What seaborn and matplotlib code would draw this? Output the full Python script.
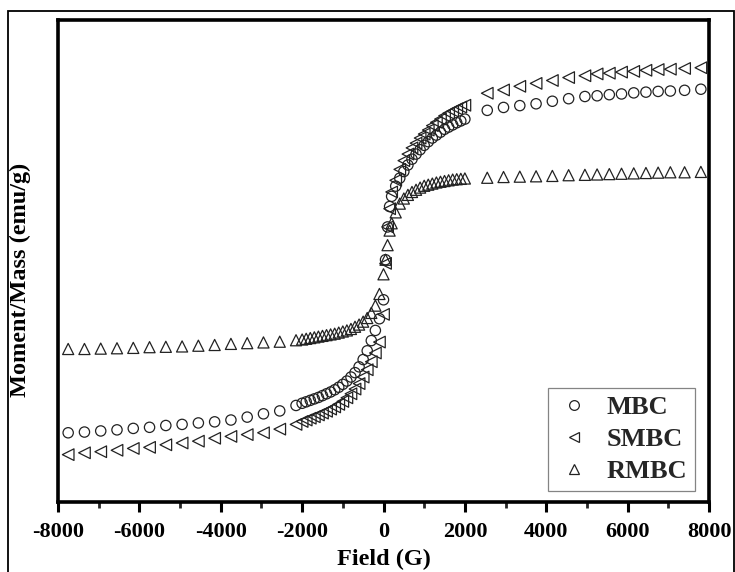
import numpy as np
import pandas as pd
import seaborn as sns
import matplotlib
matplotlib.use("Agg")
import matplotlib.pyplot as plt
from matplotlib.lines import Line2D
from matplotlib.patches import Rectangle

# ---- data ----
field_g = [-7750, -7350, -6950, -6550, -6150, -5750, -5350, -4950, -4550, -4150,
           -3750, -3350, -2950, -2550, -2150,
           -2000, -1900, -1800, -1700, -1600, -1500, -1400, -1300, -1200, -1100,
           -1000, -900, -800, -700, -600, -500, -400, -300, -200, -100,
           0, 50, 100, 150,
           200, 300, 400, 500, 600, 700, 800, 900, 1000, 1100,
           1200, 1300, 1400, 1500, 1600, 1700, 1800, 1900, 2000,
           2550, 2950, 3350, 3750, 4150, 4550, 4950, 5250, 5550, 5850,
           6150, 6450, 6750, 7050, 7400, 7800]

mbc = [-19.25, -19.15, -19.0, -18.85, -18.65, -18.5, -18.25, -18.1, -17.9, -17.75,
       -17.5, -17.1, -16.65, -16.25, -15.5,
       -15.2, -15.0, -14.8, -14.6, -14.4, -14.15, -13.9, -13.65, -13.35, -13.0,
       -12.6, -12.15, -11.6, -11.0, -10.2, -9.2, -8.0, -6.6, -5.2, -3.6,
       -1.0, 4.5, 9.0, 11.8,
       13.2, 14.6, 15.7, 16.6, 17.5, 18.3, 19.0, 19.6, 20.2, 20.7,
       21.2, 21.6, 22.0, 22.4, 22.7, 23.0, 23.3, 23.55, 23.8,
       25.0, 25.4, 25.65, 25.9, 26.25, 26.6, 26.9, 27.0, 27.15, 27.25,
       27.4, 27.5, 27.6, 27.65, 27.75, 27.9]

smbc = [-22.25, -22.0, -21.85, -21.65, -21.4, -21.25, -20.9, -20.65, -20.4, -20.0,
        -19.75, -19.5, -19.25, -18.75, -18.1,
        -17.7, -17.5, -17.25, -17.05, -16.8, -16.55, -16.3, -16.0, -15.7, -15.35,
        -14.95, -14.45, -13.9, -13.25, -12.5, -11.6, -10.6, -9.5, -8.3, -6.8,
        -3.0, 4.0, 9.0, 11.5,
        13.8, 15.4, 16.9, 18.1, 19.0, 19.85, 20.5, 21.2, 21.75, 22.3,
        22.9, 23.35, 23.8, 24.25, 24.6, 24.9, 25.2, 25.45, 25.7,
        27.35, 27.8, 28.3, 28.7, 29.1, 29.5, 29.75, 30.0, 30.1, 30.25,
        30.35, 30.5, 30.6, 30.65, 30.75, 30.85]

rmbc = [-7.75, -7.75, -7.7, -7.65, -7.6, -7.5, -7.45, -7.4, -7.3, -7.2,
        -7.05, -6.95, -6.85, -6.75, -6.55,
        -6.45, -6.35, -6.25, -6.15, -6.05, -5.95, -5.85, -5.75, -5.65, -5.5,
        -5.35, -5.2, -5.0, -4.7, -4.4, -4.0, -3.5, -2.8, -1.8, -0.2,
        2.5, 4.5, 6.5, 8.5,
        9.5, 11.0, 12.2, 12.9, 13.4, 13.8, 14.1, 14.4, 14.65, 14.8,
        14.95, 15.1, 15.2, 15.3, 15.4, 15.5, 15.55, 15.6, 15.65,
        15.75, 15.85, 15.9, 15.95, 16.0, 16.1, 16.15, 16.2, 16.25, 16.3,
        16.35, 16.4, 16.45, 16.5, 16.5, 16.55]

series_names = ["MBC", "SMBC", "RMBC"]
series_values = [mbc, smbc, rmbc]
series_markers = ["o", "<", "^"]
series_sizes = [55, 70, 64]

x_ticks = [-8000, -6000, -4000, -2000, 0, 2000, 4000, 6000, 8000]

# ---- style ----
sns.set_theme(style="ticks")
plt.rcParams["font.family"] = ["Liberation Serif", "DejaVu Serif"]
plt.rcParams["font.weight"] = "bold"

fig = plt.figure(figsize=(7.35, 5.72), dpi=100)
ax = fig.add_axes([58 / 735, 1 - 502 / 572, (709 - 58) / 735, (502 - 20) / 572])

edge = "#222222"
for name, vals, mk, sz in zip(series_names, series_values, series_markers, series_sizes):
    df = pd.DataFrame({"Field": field_g, "Moment": vals})
    sns.scatterplot(data=df, x="Field", y="Moment", marker=mk, s=sz,
                    facecolor="none", edgecolor=edge, linewidth=0.9,
                    ax=ax, legend=False, zorder=3)

ax.set_xlim(-8000, 8000)
ax.set_ylim(-28.75, 37.4)
ax.set_xticks(x_ticks)
ax.set_xticklabels([str(t) for t in x_ticks])
ax.set_xticks([-7000, -5000, -3000, -1000, 1000, 3000, 5000, 7000], minor=True)
ax.set_yticks([])

for sp in ax.spines.values():
    sp.set_linewidth(2.6)
    sp.set_color("black")
    sp.set_visible(True)

ax.tick_params(axis="x", which="major", direction="out", length=7.5, width=2.2,
               labelsize=16, pad=7, colors="black")
ax.tick_params(axis="x", which="minor", direction="out", length=4.5, width=2.0)
for lbl in ax.get_xticklabels():
    lbl.set_fontweight("bold")

ax.set_xlabel("Field (G)", fontsize=17.5, fontweight="bold", color="black")
ax.set_ylabel("Moment/Mass (emu/g)", fontsize=17.5, fontweight="bold", color="black")
ax.xaxis.set_label_coords(0.5, -0.097)
ax.yaxis.set_label_coords(-0.042, 0.46)

handles = [Line2D([], [], linestyle="none", marker=m, markersize=7,
                  markerfacecolor="none", markeredgecolor=edge, markeredgewidth=0.9)
           for m in series_markers]
leg = ax.legend(handles, series_names, loc="lower right",
                bbox_to_anchor=(0.978, 0.023), borderaxespad=0,
                prop={"family": "Liberation Serif", "weight": "bold", "size": 19},
                frameon=True, fancybox=False, edgecolor="#666666",
                labelspacing=0.32, handletextpad=0.55, handlelength=1.36,
                borderpad=0.3)
leg.get_frame().set_linewidth(0.9)

# outer frame around the figure
fig.patches.append(Rectangle((8 / 735, -0.1), (734 - 8) / 735, (1 - 11 / 572) + 0.1,
                             transform=fig.transFigure, fill=False,
                             edgecolor="black", linewidth=1.3, clip_on=False))

fig.savefig("out.png", dpi=100)
